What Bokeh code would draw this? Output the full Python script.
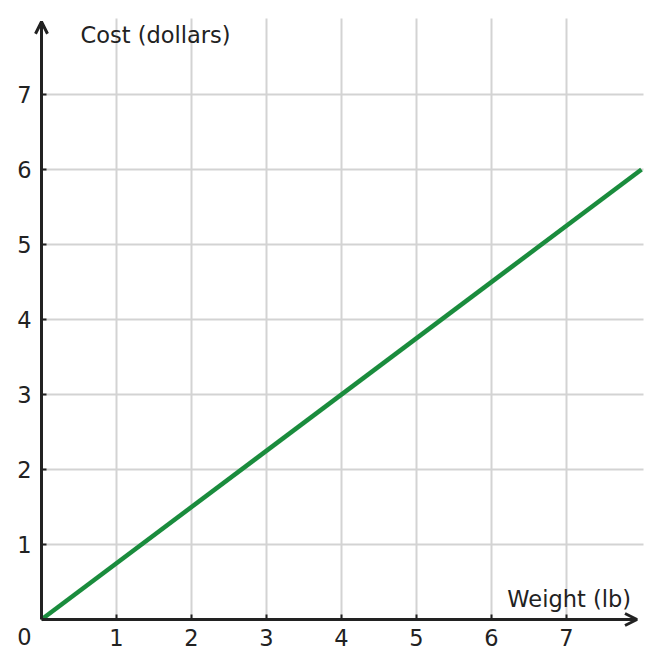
from bokeh.plotting import figure
from bokeh.models import Range1d, FixedTicker, Arrow, OpenHead, Label
from bokeh.embed import file_html
from bokeh.resources import INLINE

# data
weight = [0, 8]
cost = [0, 6]
x_ticks = [1, 2, 3, 4, 5, 6, 7]
y_ticks = [1, 2, 3, 4, 5, 6, 7]
x_label = "Weight (lb)"
y_label = "Cost (dollars)"
origin_label = "0"

FONT = "DejaVu Sans"
FS = "22.5px"
DARK = "#222222"

W, H = 653, 660
OX, OY, S = 41.0, 619.0, 75.0  # origin pixel and pixels per unit

p = figure(frame_width=W, frame_height=H,
           x_range=Range1d(-OX / S, (W - OX) / S),
           y_range=Range1d(-(H - OY) / S, OY / S),
           min_border=0, min_border_left=0, min_border_right=0,
           min_border_top=0, min_border_bottom=0,
           output_backend="svg", toolbar_location=None)
p.outline_line_color = None
p.background_fill_color = "white"
p.border_fill_color = "white"

for ax, ticks in ((p.xaxis[0], x_ticks), (p.yaxis[0], y_ticks)):
    ax.ticker = FixedTicker(ticks=ticks)
    ax.fixed_location = 0
    ax.axis_line_color = None
    ax.major_tick_in = 5
    ax.major_tick_out = 0
    ax.major_tick_line_color = DARK
    ax.major_tick_line_width = 2
    ax.minor_tick_line_color = None
    ax.major_label_text_font = FONT
    ax.major_label_text_font_size = FS
    ax.major_label_text_color = DARK
p.xaxis.major_label_standoff = 9
p.yaxis.major_label_standoff = 10

p.xgrid.ticker = FixedTicker(ticks=x_ticks)
p.ygrid.ticker = FixedTicker(ticks=y_ticks)
p.grid.grid_line_color = "#d3d3d3"
p.grid.grid_line_width = 2
p.xgrid.cross_bounds = (0, 8.013)
p.ygrid.cross_bounds = (0, 8.027)

p.line(weight, cost, line_color="#1a8c3d", line_width=4.5)

# axes with arrows
p.add_layout(Arrow(end=OpenHead(size=12, line_width=3, line_color=DARK),
                   x_start=0, y_start=0, x_end=7.94, y_end=0,
                   line_color=DARK, line_width=3, level="overlay"))
p.add_layout(Arrow(end=OpenHead(size=12, line_width=3, line_color=DARK),
                   x_start=0, y_start=0, x_end=0, y_end=7.97,
                   line_color=DARK, line_width=3, level="overlay"))

p.add_layout(Label(x=0.52, y=7.787, text=y_label, text_font=FONT,
                   text_font_size=FS, text_color=DARK,
                   text_align="left", text_baseline="alphabetic"))
p.add_layout(Label(x=7.86, y=0.28, text=x_label, text_font=FONT,
                   text_font_size=FS, text_color=DARK,
                   text_align="right", text_baseline="alphabetic"))
p.add_layout(Label(x=-0.227, y=-0.227, text=origin_label, text_font=FONT,
                   text_font_size=FS, text_color=DARK,
                   text_align="center", text_baseline="alphabetic"))

open("out.html", "w").write(file_html(p, INLINE))
